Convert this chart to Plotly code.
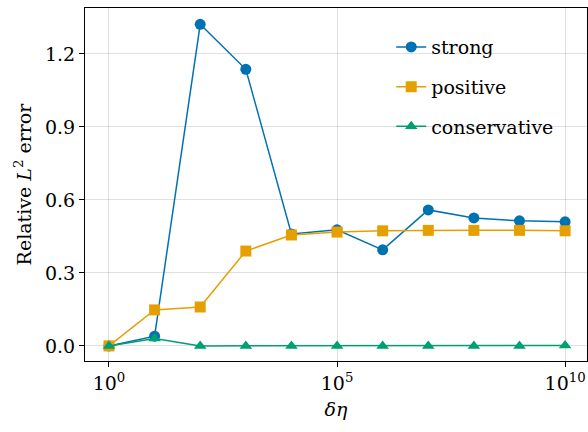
import plotly.graph_objects as go

# Relative L2 error against the penalty parameter delta-eta
delta_eta = [1e0, 1e1, 1e2, 1e3, 1e4, 1e5, 1e6, 1e7, 1e8, 1e9, 1e10]
err_strong = [0.0, 0.04, 1.322, 1.137, 0.460, 0.477, 0.395, 0.559, 0.526, 0.514, 0.510]
err_positive = [0.0, 0.148, 0.160, 0.390, 0.456, 0.468, 0.473, 0.475, 0.475, 0.475, 0.473]
err_conservative = [0.0, 0.030, 0.0, 0.0, 0.0, 0.0, 0.0, 0.0, 0.0, 0.0, 0.002]

x_tickvals = [1e0, 1e5, 1e10]
x_ticktext = ["10<sup>0</sup>", "10<sup>5</sup>", "10<sup>10</sup>"]
y_tickvals = [0.0, 0.3, 0.6, 0.9, 1.2]
y_ticktext = ["0.0", "0.3", "0.6", "0.9", "1.2"]

FONT = "DejaVu Serif"
BLUE, ORANGE, GREEN = "#0072B2", "#E69F00", "#009E73"

series = [
    ("strong", err_strong, BLUE, "circle", 11),
    ("positive", err_positive, ORANGE, "square", 11),
    ("conservative", err_conservative, GREEN, "triangle-up", 11),
]

fig = go.Figure()
for name, ys, color, symbol, size in series:
    fig.add_trace(go.Scatter(
        x=delta_eta, y=ys, name=name, mode="lines+markers",
        legendgroup=name,
        line=dict(color=color, width=1.5),
        marker=dict(color=color, symbol=symbol, size=size, line=dict(width=0)),
    ))

axis_common = dict(
    showline=True, linecolor="black", linewidth=1, mirror=True,
    ticks="outside", ticklen=5, tickwidth=1, tickcolor="black",
    showgrid=True, gridcolor="rgba(0,0,0,0.12)", gridwidth=1,
    zeroline=False,
    tickfont=dict(family=FONT, size=19, color="black"),
)

fig.update_xaxes(
    type="log", range=[-0.526, 10.48],
    tickvals=x_tickvals, ticktext=x_ticktext,
    title=dict(text="<i>δη</i>", font=dict(family=FONT, size=19, color="black"), standoff=9),
    **axis_common,
)
fig.update_yaxes(
    range=[-0.062, 1.389],
    tickvals=y_tickvals, ticktext=y_ticktext,
    title=dict(text="Relative <i>L</i><sup>2</sup> error",
               font=dict(family=FONT, size=19, color="black"), standoff=8),
    **axis_common,
)

fig.update_layout(
    width=588, height=432,
    margin=dict(l=85, r=1, t=8, b=71),
    paper_bgcolor="white", plot_bgcolor="white",
    font=dict(family=FONT, color="black"),
    legend=dict(
        x=0.61, y=0.943, xanchor="left", yanchor="top",
        bgcolor="rgba(0,0,0,0)", borderwidth=0,
        font=dict(family=FONT, size=19, color="black"),
        tracegroupgap=12, itemwidth=30,
    ),
)

fig.write_html("out.html")
